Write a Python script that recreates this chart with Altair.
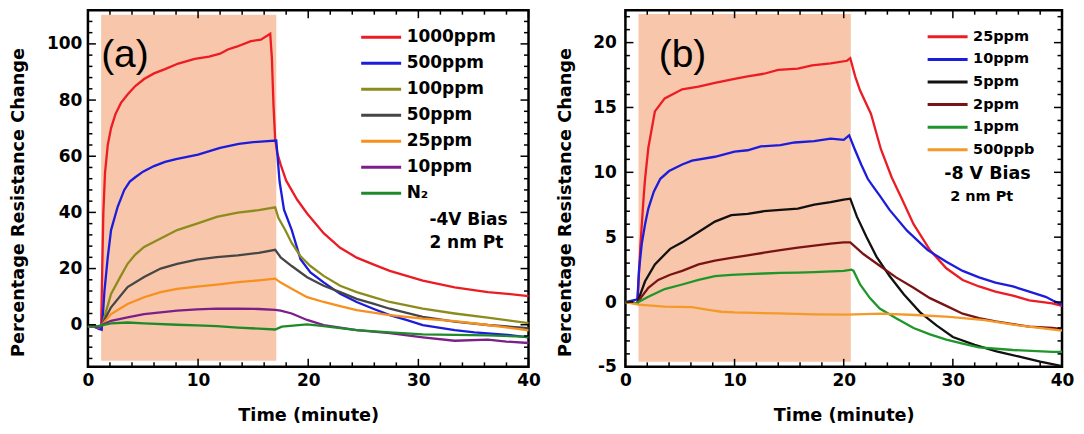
import altair as alt
import pandas as pd

FONT = "DejaVu Sans, Verdana, sans-serif"
SHADE = "#f8c6aa"

# ---------------- Panel (a) ----------------
A_NAMES = ["1000ppm", "500ppm", "100ppm", "50ppm", "25ppm", "10ppm", "N\u2082"]
A_COLORS = ["#ec1c24", "#1c1cdc", "#8c8c1e", "#464646", "#f7901e", "#7d1f88", "#1f8a2a"]

A_T_1000 = [0, 0.6, 1.0, 1.2, 1.3, 1.4, 1.55, 1.8, 2.1, 2.5, 3.0, 3.6, 4.3, 5.1, 6.0, 7.0, 8.2, 9.7, 11.0, 12.0, 12.7, 13.5, 14.8, 15.7, 16.55, 16.7, 16.85, 17.0, 17.2, 17.5, 18.0, 19.0, 19.9, 21.4, 22.9, 24.4, 25.9, 27.4, 30.4, 33.3, 36.3, 38.1, 40.0]
A_V_1000 = [-0.5, -0.7, -1.0, -0.5, 20, 40, 54, 64, 70, 75, 79, 82, 85, 87.5, 89.5, 91, 93, 94.7, 95.5, 96.5, 98, 99, 101, 101.5, 103.6, 95, 78, 66, 61, 57, 51.3, 44.5, 39.6, 32.6, 27.4, 23.9, 21.5, 19.2, 15.7, 13.3, 11.6, 11.0, 10.2]

A_T_500 = [0, 0.6, 1.0, 1.25, 1.35, 1.5, 1.8, 2.1, 2.7, 3.3, 3.8, 4.3, 5.0, 6.0, 7.0, 8.0, 10.0, 12.0, 13.7, 15.0, 16.0, 17.1, 17.4, 17.8, 18.5, 19.3, 20.2, 21.4, 22.9, 24.4, 25.9, 27.4, 28.9, 30.4, 33.3, 35.1, 38.1, 40.0]
A_V_500 = [-0.5, -0.8, -1.5, -1.8, 3, 12, 24, 33.7, 42, 48, 51, 52.5, 54.5, 56.5, 58, 59, 60.6, 63, 64.4, 65, 65.3, 65.6, 51, 41, 33.8, 23.3, 18.6, 15.1, 11.0, 8.1, 5.7, 3.4, 1.7, -0.1, -1.9, -2.7, -3.6, -4.5]

A_T_100 = [0, 0.6, 1.0, 1.3, 2.1, 3.0, 3.6, 4.3, 5.1, 6.6, 8.1, 9.9, 11.7, 13.6, 15.5, 17.0, 17.3, 17.9, 18.5, 19.3, 20.2, 21.4, 22.9, 24.4, 25.9, 27.4, 30.4, 33.3, 36.3, 40.0]
A_V_100 = [-0.5, -0.7, -1.0, 0, 11, 17.5, 21.7, 25, 27.7, 30.7, 33.7, 36, 38.4, 39.9, 40.8, 41.8, 38, 33.8, 29.1, 24.4, 20.9, 17.4, 13.9, 11.6, 9.8, 8.1, 5.7, 4.0, 2.5, 0.6]

A_T_50 = [0, 0.6, 1.0, 1.3, 2.1, 3.6, 5.1, 6.6, 8.1, 9.9, 11.7, 13.6, 15.5, 17.0, 17.5, 18.5, 19.9, 21.4, 22.9, 24.4, 25.9, 27.4, 30.4, 33.3, 36.3, 40.0]
A_V_50 = [-0.5, -0.7, -1.0, 0.2, 6.2, 13.4, 17, 20, 21.7, 23.2, 24.1, 24.7, 25.6, 26.7, 24, 20.9, 16.9, 13.9, 11.6, 9.2, 7.5, 5.7, 2.8, 1.1, -0.1, -1.2]

A_T_25 = [0, 0.6, 1.0, 1.3, 2.1, 3.6, 5.1, 6.6, 8.1, 9.9, 11.7, 13.6, 15.5, 17.0, 17.5, 18.5, 19.9, 21.4, 22.9, 24.4, 27.4, 30.4, 33.3, 36.3, 40.0]
A_V_25 = [-0.5, -0.7, -1.0, 0, 3.8, 7.4, 9.8, 11.6, 12.8, 13.6, 14.3, 15.2, 15.8, 16.4, 15, 12.8, 9.8, 8.1, 6.6, 5.2, 3.4, 2.2, 1.3, -0.1, -2.0]

A_T_10 = [0, 0.6, 1.0, 1.3, 2.1, 3.6, 5.1, 6.6, 8.1, 9.9, 11.7, 13.6, 15.5, 17.0, 17.5, 18.5, 19.9, 21.4, 22.9, 24.4, 27.4, 30.4, 33.3, 36.3, 38.0, 40.0]
A_V_10 = [-0.5, -0.7, -1.0, 0, 1.4, 2.6, 3.8, 4.4, 5.0, 5.5, 5.7, 5.7, 5.6, 5.3, 5.0, 4.0, 1.7, -0.1, -1.0, -1.9, -3.0, -4.5, -5.7, -5.3, -6.0, -6.5]

A_T_N2 = [0, 0.9, 2.1, 3.6, 5.1, 8.1, 9.9, 11.7, 13.6, 15.5, 17.0, 17.6, 19.9, 21.4, 24.4, 27.4, 30.4, 33.3, 36.3, 40.0]
A_V_N2 = [-0.5, -0.5, 0.5, 0.8, 0.5, 0, -0.2, -0.5, -1.0, -1.4, -1.7, -0.7, 0.1, -0.5, -1.9, -2.7, -3.4, -3.6, -3.8, -4.3]

A_TIMES = [A_T_1000, A_T_500, A_T_100, A_T_50, A_T_25, A_T_10, A_T_N2]
A_VALUES = [A_V_1000, A_V_500, A_V_100, A_V_50, A_V_25, A_V_10, A_V_N2]

# ---------------- Panel (b) ----------------
B_NAMES = ["25ppm", "10ppm", "5ppm", "2ppm", "1ppm", "500ppb"]
B_COLORS = ["#ec1c24", "#1c1cdc", "#111111", "#7a1414", "#1f962a", "#f39a2a"]

B_T_25 = [0, 1.1, 1.36, 1.67, 1.8, 2.1, 2.7, 3.6, 5.2, 6.7, 8.2, 10.0, 11.2, 12.7, 14.0, 15.8, 17.1, 18.8, 20.3, 20.6, 21.05, 21.5, 22.5, 23.4, 24.4, 25.3, 26.4, 27.9, 29.4, 30.9, 32.4, 33.9, 35.5, 37.0, 39.1, 40.0]
B_V_25 = [0, -0.1, 4.2, 8.1, 9.5, 11.9, 14.7, 15.7, 16.4, 16.6, 16.9, 17.2, 17.4, 17.6, 17.9, 18.0, 18.25, 18.4, 18.6, 18.8, 17.4, 16.3, 14.5, 11.8, 9.6, 8.0, 6.0, 4.0, 2.6, 1.7, 1.2, 0.8, 0.5, 0.13, -0.1, -0.3]

B_T_10 = [0, 1.1, 1.25, 1.5, 1.8, 2.1, 2.6, 3.2, 4.0, 5.2, 6.1, 8.2, 10.0, 11.2, 12.4, 14.2, 15.5, 17.3, 18.8, 20.0, 20.5, 21.0, 21.6, 22.2, 22.7, 23.3, 24.2, 25.8, 27.7, 29.4, 30.9, 32.4, 33.9, 35.5, 37.0, 38.5, 39.2, 40.0]
B_V_10 = [0, 0.2, 2.5, 4.5, 6.0, 7.2, 8.5, 9.5, 10.1, 10.6, 10.9, 11.2, 11.6, 11.7, 12.0, 12.1, 12.3, 12.4, 12.6, 12.5, 12.85, 11.8, 10.6, 9.5, 8.9, 8.2, 7.1, 5.5, 4.0, 3.1, 2.4, 1.9, 1.5, 1.2, 0.8, 0.4, 0.1, -0.2]

B_T_5 = [0, 1.1, 1.2, 1.8, 2.7, 4.1, 5.2, 6.7, 8.2, 9.7, 11.2, 12.7, 14.2, 15.8, 17.3, 18.8, 20.0, 20.6, 21.2, 22.1, 23.0, 24.2, 25.5, 27.0, 28.5, 30.0, 32.0, 34.0, 36.0, 38.0, 40.0]
B_V_5 = [0, -0.1, 0.2, 1.6, 2.9, 4.1, 4.6, 5.4, 6.2, 6.7, 6.8, 7.0, 7.1, 7.2, 7.5, 7.7, 7.9, 7.97, 6.6, 5.0, 3.5, 2.0, 0.6, -0.8, -1.8, -2.7, -3.3, -3.8, -4.2, -4.6, -4.95]

B_T_2 = [0, 1.1, 1.2, 2.1, 3.0, 4.1, 5.2, 6.7, 8.2, 9.7, 11.2, 12.7, 14.2, 15.8, 17.3, 18.8, 20.0, 20.6, 21.8, 23.3, 24.8, 26.4, 27.9, 29.4, 30.9, 32.4, 33.9, 35.5, 37.0, 39.1, 40.0]
B_V_2 = [0, -0.1, 0.1, 1.1, 1.7, 2.1, 2.4, 2.9, 3.2, 3.4, 3.6, 3.8, 4.0, 4.2, 4.35, 4.5, 4.6, 4.6, 3.7, 2.8, 1.9, 1.1, 0.3, -0.3, -0.9, -1.25, -1.5, -1.7, -1.9, -2.0, -2.1]

B_T_1 = [0, 1.1, 1.2, 2.1, 3.6, 5.2, 6.7, 8.2, 9.7, 11.2, 12.7, 14.2, 15.8, 17.3, 20.0, 20.7, 20.9, 21.5, 22.4, 23.3, 24.8, 26.4, 27.9, 29.4, 30.9, 32.4, 35.5, 39.1, 40.0]
B_V_1 = [0, -0.1, 0, 0.4, 1.0, 1.35, 1.7, 2.0, 2.1, 2.15, 2.2, 2.25, 2.27, 2.3, 2.4, 2.5, 2.4, 1.35, 0.3, -0.5, -1.25, -2.0, -2.5, -2.9, -3.2, -3.5, -3.7, -3.85, -3.85]

B_T_05 = [0, 1.2, 3.6, 6.1, 7.6, 8.8, 10.0, 14.0, 17.3, 20.3, 23.4, 26.6, 29.7, 32.9, 36.0, 40.0]
B_V_05 = [0, -0.2, -0.35, -0.4, -0.6, -0.75, -0.8, -0.88, -0.95, -0.98, -0.9, -1.0, -1.15, -1.4, -1.8, -2.2]

B_TIMES = [B_T_25, B_T_10, B_T_5, B_T_2, B_T_1, B_T_05]
B_VALUES = [B_V_25, B_V_10, B_V_5, B_V_2, B_V_1, B_V_05]

# axis ticks
X_MAJOR = [0, 10, 20, 30, 40]
X_MINOR = [2, 4, 6, 8, 12, 14, 16, 18, 22, 24, 26, 28, 32, 34, 36, 38]
A_Y_MAJOR = [0, 20, 40, 60, 80, 100]
A_Y_MINOR = [-12, -8, -4, 4, 8, 12, 16, 24, 28, 32, 36, 44, 48, 52, 56, 64, 68, 72, 76, 84, 88, 92, 96, 104, 108]
B_Y_MAJOR = [-5, 0, 5, 10, 15, 20]
B_Y_MINOR = [-4, -3, -2, -1, 1, 2, 3, 4, 6, 7, 8, 9, 11, 12, 13, 14, 16, 17, 18, 19, 21, 22]

W_A, W_B, H = 441, 437, 357
LEGEND_LINE = "M-2,0L2,0"   # horizontal stroke symbol, 40 px long at size 400


def panel(names, colors, times, values, ydom, shade, y_major, y_minor, W,
          title_x, label_pad, leg_x, leg_y, leg_font, leg_row, label_txt, notes):
    rows = []
    for n, ts, vs in zip(names, times, values):
        for t, v in zip(ts, vs):
            rows.append({"t": t, "v": v, "s": n})
    df = pd.DataFrame(rows)
    xs = alt.Scale(domain=[0, 40], nice=False, zero=False)
    ys = alt.Scale(domain=ydom, nice=False, zero=False)
    xax = alt.Axis(values=X_MAJOR, title="Time (minute)", titlePadding=18, labelPadding=6,
                   labelFlush=False, labelFont=FONT, titleFont=FONT)
    yax = alt.Axis(values=y_major, title="Percentage Resistance Change", titleX=title_x,
                   titleY=192, titleBaseline="top", titleAngle=270, labelFlush=False,
                   labelPadding=label_pad, labelExpr="'' + datum.value",
                   labelFont=FONT, titleFont=FONT)

    def X(f):
        return alt.X(f, type="quantitative", scale=xs, axis=xax)

    def Y(f):
        return alt.Y(f, type="quantitative", scale=ys, axis=yax)

    sdf = pd.DataFrame({"x1": [shade[0]], "x2": [shade[1]], "y1": [shade[2]], "y2": [shade[3]]})
    rect = alt.Chart(sdf).mark_rect(color=SHADE).encode(x=X("x1"), x2="x2", y=Y("y1"), y2="y2")

    lines = alt.Chart(df).mark_line(strokeWidth=2.3).encode(
        x=X("t"), y=Y("v"),
        color=alt.Color("s:N", scale=alt.Scale(domain=names, range=colors),
                        legend=alt.Legend(orient="none", legendX=leg_x, legendY=leg_y, title=None,
                                          symbolType=LEGEND_LINE, symbolSize=400, symbolStrokeWidth=3,
                                          labelFont=FONT, labelFontWeight="bold", labelFontSize=leg_font,
                                          labelColor="black", labelOffset=14, rowPadding=leg_row)),
    )

    layers = [rect, lines]
    for vals, ln in [(X_MAJOR, 8), (X_MINOR, 4.5)]:
        tdf = pd.DataFrame({"x": vals})
        layers.append(alt.Chart(tdf).mark_rule(color="black", strokeWidth=1.5).encode(
            x=X("x"), y=alt.value(H), y2=alt.value(H - ln)))
        layers.append(alt.Chart(tdf).mark_rule(color="black", strokeWidth=1.5).encode(
            x=X("x"), y=alt.value(0), y2=alt.value(ln)))
    for vals, ln in [(y_major, 8), (y_minor, 4.5)]:
        tdf = pd.DataFrame({"y": vals})
        layers.append(alt.Chart(tdf).mark_rule(color="black", strokeWidth=1.5).encode(
            y=Y("y"), x=alt.value(0), x2=alt.value(ln)))
        layers.append(alt.Chart(tdf).mark_rule(color="black", strokeWidth=1.5).encode(
            y=Y("y"), x=alt.value(W), x2=alt.value(W - ln)))

    ldf = pd.DataFrame({"t": [label_txt[1]], "v": [label_txt[2]], "txt": [label_txt[0]]})
    layers.append(alt.Chart(ldf).mark_text(font="Liberation Sans", fontSize=39, align="left",
                                           baseline="alphabetic", color="black").encode(
        x=X("t"), y=Y("v"), text="txt:N"))
    for txt, t, v, fs in notes:
        ndf = pd.DataFrame({"t": [t], "v": [v], "txt": [txt]})
        layers.append(alt.Chart(ndf).mark_text(font=FONT, fontWeight="bold", fontSize=fs, align="left",
                                               baseline="alphabetic", color="black").encode(
            x=X("t"), y=Y("v"), text="txt:N"))
    return alt.layer(*layers).properties(width=W, height=H)


pa = panel(A_NAMES, A_COLORS, A_TIMES, A_VALUES, [-15, 112], [1.2, 17.1, -12.8, 110.4],
           A_Y_MAJOR, A_Y_MINOR, W_A, -78, 6, 282, 15.7, 17, 6.0,
           ("(a)", 1.2, 91.7),
           [("-4V Bias", 31.0, 35.6, 17), ("2 nm Pt", 31.0, 27.4, 17)])
pb = panel(B_NAMES, B_COLORS, B_TIMES, B_VALUES, [-5, 22.5], [1.2, 20.65, -4.6, 22.2],
           B_Y_MAJOR, B_Y_MINOR, W_B, -69, 9, 311, 15.2, 14.5, 4.6,
           ("(b)", 3.05, 18.1),
           [("-8 V Bias", 29.2, 9.5, 17.5), ("2 nm Pt", 29.75, 7.8, 14.5)])

LEFT_PAD = 0
PLOT_A_LEFT = 8 + LEFT_PAD + 78 + 6
PLOT_B_LEFT = 630
SPACING = PLOT_B_LEFT - PLOT_A_LEFT - W_A

chart = alt.hconcat(pa, pb, spacing=SPACING, bounds="flush").resolve_scale(color="independent").configure_view(
    stroke="black", strokeWidth=2.5
).configure_axis(
    grid=False, ticks=False, domain=False, labelFont=FONT, labelFontWeight="bold",
    labelFontSize=17, labelColor="black", titleFont=FONT, titleFontWeight="bold",
    titleFontSize=17.7, titleColor="black"
).properties(padding={"left": LEFT_PAD, "top": 0, "right": 0, "bottom": 0})

chart.save("out.html", embed_options={"renderer": "svg", "actions": False})
